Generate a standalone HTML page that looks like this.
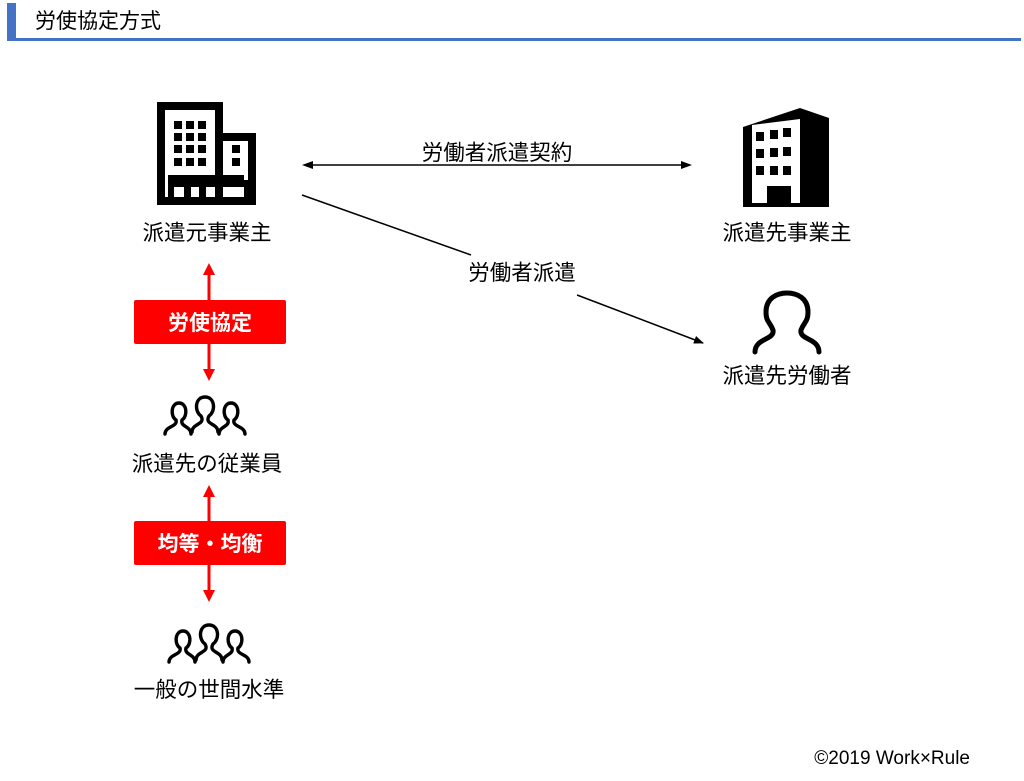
<!DOCTYPE html>
<html><head><meta charset="utf-8"><style>
body{margin:0;background:#fff;width:1024px;height:781px;overflow:hidden}
svg{display:block}
text{font-family:"Liberation Sans","Noto Sans CJK JP",sans-serif}
</style></head><body>
<svg width="1024" height="781" viewBox="0 0 1024 781">
<defs>
<marker id="ab" markerWidth="10" markerHeight="8" refX="9" refY="4" orient="auto" markerUnits="userSpaceOnUse"><path d="M0,0 L10,4 L0,8 z" fill="#000"/></marker>
<g id="ppl" fill="none" stroke="#000" stroke-width="3.4" stroke-linecap="round">
<path d="M-40,18 C-40,10 -27,11 -29,4 C-35,0 -34,-13 -26,-13 C-18,-13 -17,0 -23,4 C-25,11 -14,10 -14,18"/>
<path d="M-13,16 C-13,7 1,9 -4,0 C-11,-5 -10,-19 0,-19 C10,-19 11,-5 4,0 C-1,9 13,7 13,16"/>
<path d="M40,18 C40,10 27,11 29,4 C35,0 34,-13 26,-13 C18,-13 17,0 23,4 C25,11 14,10 14,18"/>
</g>
</defs>
<rect x="7" y="3" width="9" height="38" fill="#4472c4"/>
<rect x="7" y="38" width="1014" height="3" fill="#4472c4"/>
<text x="35" y="28" font-size="21" fill="#000">労使協定方式</text>

<rect x="161" y="106" width="58" height="95" fill="none" stroke="#000" stroke-width="8"/>
<rect x="219" y="137" width="33" height="64" fill="none" stroke="#000" stroke-width="8"/>
<g fill="#000">
<rect x="174" y="121" width="8" height="8"/><rect x="186" y="121" width="8" height="8"/><rect x="198" y="121" width="8" height="8"/>
<rect x="174" y="133" width="8" height="8"/><rect x="186" y="133" width="8" height="8"/><rect x="198" y="133" width="8" height="8"/>
<rect x="174" y="145" width="8" height="8"/><rect x="186" y="145" width="8" height="8"/><rect x="198" y="145" width="8" height="8"/>
<rect x="174" y="158" width="8" height="8"/><rect x="186" y="158" width="8" height="8"/><rect x="198" y="158" width="8" height="8"/>
<rect x="232" y="145" width="8" height="8"/><rect x="232" y="158" width="8" height="8"/>
<rect x="168" y="175" width="49" height="12"/><rect x="168" y="175" width="6" height="26"/>
<rect x="184" y="180" width="7" height="22"/><rect x="199" y="180" width="7" height="22"/><rect x="214" y="175" width="30" height="12"/><rect x="244" y="180" width="6" height="22"/>
</g>
<text x="207" y="240" font-size="21.5" text-anchor="middle">派遣元事業主</text>

<path d="M743,127 L800,108 L829,118 L829,207 L743,207 Z" fill="#000"/>
<path d="M752,125 L800,119 L800,203 L791,203 L791,186 L767,186 L767,203 L752,203 Z" fill="#fff"/>
<g fill="#000">
<rect x="756" y="132" width="8" height="9"/><rect x="770" y="130" width="8" height="9"/><rect x="783" y="128" width="8" height="9"/>
<rect x="756" y="149" width="8" height="9"/><rect x="770" y="148" width="8" height="9"/><rect x="783" y="147" width="8" height="9"/>
<rect x="756" y="166" width="8" height="9"/><rect x="770" y="166" width="8" height="9"/><rect x="783" y="166" width="8" height="9"/>
</g>
<text x="787" y="240" font-size="21.5" text-anchor="middle">派遣先事業主</text>

<text x="497" y="160" font-size="21.5" text-anchor="middle">労働者派遣契約</text>
<line x1="312" y1="165" x2="682" y2="165" stroke="#000" stroke-width="1.5"/>
<path d="M302,165 L313,161 L313,169 z"/><path d="M692,165 L681,161 L681,169 z"/>

<line x1="302" y1="195" x2="471" y2="255" stroke="#000" stroke-width="1.5"/>
<text x="522" y="280" font-size="21.5" text-anchor="middle">労働者派遣</text>
<line x1="577" y1="295" x2="703" y2="343" stroke="#000" stroke-width="1.5" marker-end="url(#ab)"/>

<path d="M755,352 C755,338 775,340 773,330 C770,322 766,322 766,312 C766,298 777,293 787,293 C797,293 808,298 808,312 C808,322 804,322 801,330 C799,340 819,338 819,352" fill="none" stroke="#000" stroke-width="5" stroke-linecap="round"/>
<text x="787" y="383" font-size="21.5" text-anchor="middle">派遣先労働者</text>

<g fill="#f00">
<rect x="207.5" y="272" width="3" height="100"/>
<path d="M209,263 L203,275 L215,275 z"/><path d="M209,381 L203,369 L215,369 z"/>
<rect x="134" y="300" width="152" height="44" rx="2"/>
<rect x="207.5" y="494" width="3" height="100"/>
<path d="M209,485 L203,497 L215,497 z"/><path d="M209,602 L203,590 L215,590 z"/>
<rect x="134" y="521" width="152" height="44" rx="2"/>
</g>
<text x="210" y="330" font-size="21" font-weight="bold" fill="#fff" text-anchor="middle">労使協定</text>
<text x="210" y="551" font-size="21" font-weight="bold" fill="#fff" text-anchor="middle">均等・均衡</text>

<use href="#ppl" x="205" y="416"/>
<text x="207" y="471" font-size="21.5" text-anchor="middle">派遣先の従業員</text>
<use href="#ppl" x="209" y="644"/>
<text x="209" y="697" font-size="21.5" text-anchor="middle">一般の世間水準</text>

<text x="970" y="764" font-size="19" text-anchor="end">©2019  Work×Rule</text>
</svg>
</body></html>
